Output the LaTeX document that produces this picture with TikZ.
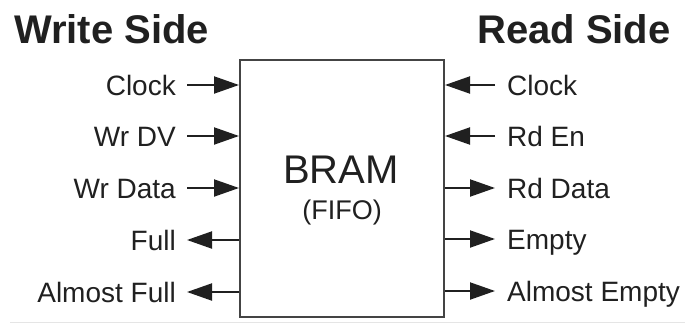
\documentclass[tikz,border=0pt]{standalone}
\usepackage{fontspec}
\setmainfont{Liberation Sans}
\usetikzlibrary{arrows.meta}
\definecolor{ink}{HTML}{202020}
\definecolor{edge}{HTML}{444444}
\tikzset{
  lbl/.style={font=\fontsize{28}{30}\selectfont, text=ink, inner sep=0pt, text height=20pt, text depth=0pt},
  ttl/.style={font=\fontsize{40}{42}\selectfont\bfseries, text=ink, inner sep=0pt},
  sig/.style={draw=ink, line width=2pt, -{Triangle[length=25pt,width=17pt]}},
  blk/.style={draw=edge, line width=2pt, minimum width=204pt, minimum height=257pt, inner sep=0pt}
}
\begin{document}
\begin{tikzpicture}[x=1pt,y=-1pt]
\useasboundingbox (0,0) rectangle (685,324);
\draw[gray!20, line width=1pt] (10,322) -- (685,322);
\node[ttl, anchor=base west] (wtitle) at (14,43) {Write Side};
\node[ttl, anchor=base west] (rtitle) at (477,43) {Read Side};
\node[blk] (bram) at (342,188.5) {};
\node[font=\fontsize{40}{42}\selectfont, text=ink, inner sep=0pt, anchor=base] (bname) at (341,183) {BRAM};
\node[font=\fontsize{27}{29}\selectfont, text=ink, inner sep=0pt, anchor=base] (bfifo) at (342,219) {(FIFO)};
% write side
\node[lbl, anchor=east] (lclk) at (176,85) {Clock};
\node[lbl, anchor=east] (ldv) at (176,136) {Wr DV};
\node[lbl, anchor=east] (ldata) at (176,188) {Wr Data};
\node[lbl, anchor=east] (lfull) at (176,240) {Full};
\node[lbl, anchor=east] (lafull) at (176,292) {Almost Full};
\draw[sig] ([xshift=11pt]lclk.east) -- (lclk -| bram.west);
\draw[sig] ([xshift=11pt]ldv.east) -- (ldv -| bram.west);
\draw[sig] ([xshift=11pt]ldata.east) -- (ldata -| bram.west);
\draw[sig] (lfull -| bram.west) -- ([xshift=11pt]lfull.east);
\draw[sig] (lafull -| bram.west) -- ([xshift=11pt]lafull.east);
% read side
\node[lbl, anchor=west] (rclk) at (507,85) {Clock};
\node[lbl, anchor=west] (ren) at (507,136) {Rd En};
\node[lbl, anchor=west] (rdata) at (507,188) {Rd Data};
\node[lbl, anchor=west] (rempty) at (507,239) {Empty};
\node[lbl, anchor=west] (raempty) at (507,291) {Almost Empty};
\draw[sig] ([xshift=-12pt]rclk.west) -- (rclk -| bram.east);
\draw[sig] ([xshift=-12pt]ren.west) -- (ren -| bram.east);
\draw[sig] (rdata -| bram.east) -- ([xshift=-12pt]rdata.west);
\draw[sig] (rempty -| bram.east) -- ([xshift=-12pt]rempty.west);
\draw[sig] (raempty -| bram.east) -- ([xshift=-12pt]raempty.west);
\end{tikzpicture}
\end{document}
